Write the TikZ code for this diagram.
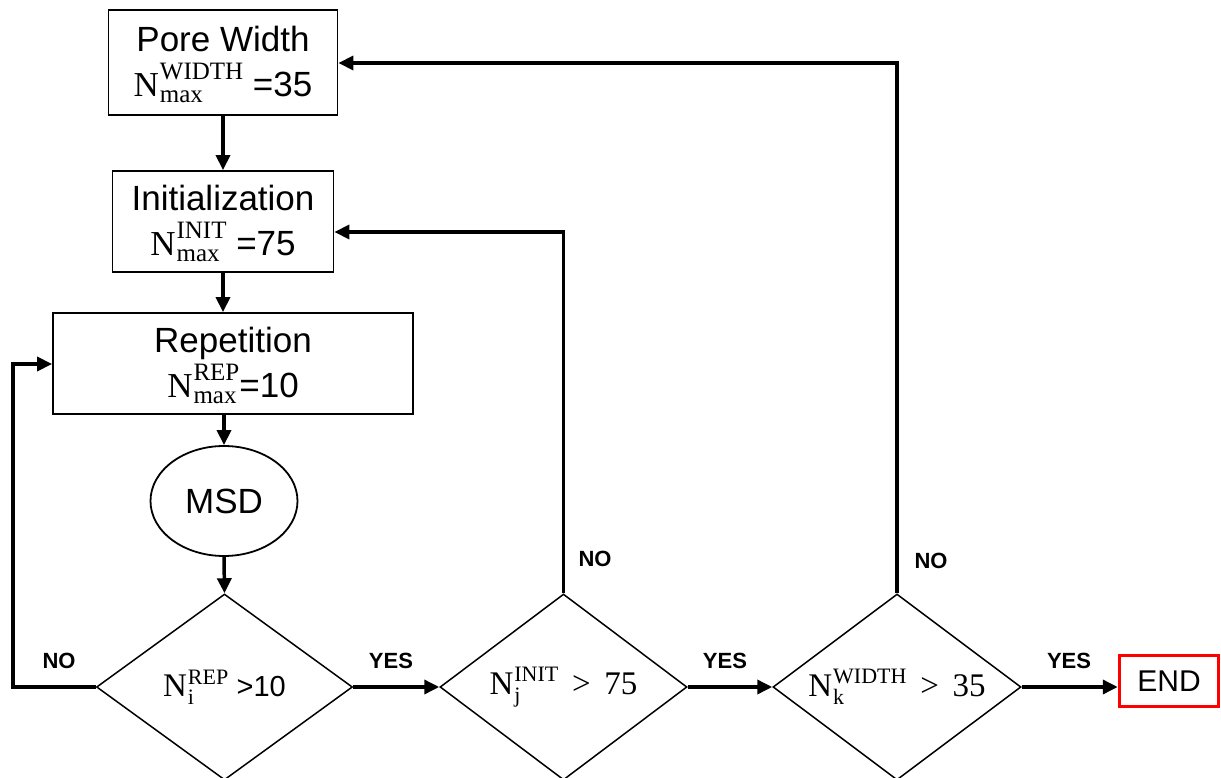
\documentclass[tikz,border=0pt]{standalone}
\usepackage{fontspec}
\setmainfont{Liberation Sans}
\newfontfamily\sr{Liberation Serif}
\usetikzlibrary{shapes.geometric,arrows.meta}
\tikzset{
  box/.style={draw, line width=1.8pt, inner sep=0pt, align=center, font=\fontsize{35}{45}\selectfont},
  dia/.style={draw, diamond, aspect=1.35, line width=1.5pt, inner sep=0pt, minimum width=252pt, minimum height=186pt, font=\fontsize{30}{36}\selectfont},
  arr/.style={line width=3.5pt, -{Triangle[length=15pt,width=14pt]}},
  lab/.style={font=\bfseries\fontsize{22}{26}\selectfont, inner sep=0pt},
}
% #1 N size, #2 sup, #3 sub, #4 script size, #5 raise, #6 lower
\newcommand{\Nv}[6]{%
  {\fontsize{#1}{#1}\selectfont\sr N}\kern1pt%
  {\fontsize{#4}{#4}\selectfont\sr
   \setbox0=\hbox{#2}\setbox2=\hbox{#3}%
   \ifdim\wd0>\wd2 \wd2=\wd0 \else\wd0=\wd2 \fi
   \rlap{\raisebox{#5}{\box0}}\raisebox{-#6}{\box2}}}
\newcommand{\tstrut}{\rule{0pt}{30pt}}
\begin{document}
\begin{tikzpicture}[x=1pt,y=-1pt]
\useasboundingbox (0,0) rectangle (1221,778);
\fill[white] (0,0) rectangle (1221,778);
% boxes
\node[box, minimum width=229pt, minimum height=105pt] (b1) at (223,62.5) {\tstrut Pore Width\\\Nv{35}{WIDTH}{max}{25}{17pt}{6pt} =35};
\node[box, minimum width=221pt, minimum height=101pt] (b2) at (223,221.5) {\tstrut Initialization\\\Nv{35}{INIT}{max}{25}{17pt}{6pt} =75};
\node[box, minimum width=360pt, minimum height=101pt] (b3) at (233,363.5) {\tstrut Repetition\\\Nv{35}{REP}{max}{25}{17pt}{6pt}=10};
\node[draw, ellipse, line width=1.8pt, inner sep=0pt, minimum width=147pt, minimum height=110pt, font=\fontsize{35}{43}\selectfont] (msd) at (224,501) {MSD};
% diamonds
\node[dia, minimum width=256pt] (d1) at (224.5,687) {\Nv{33}{REP}{i}{22}{12pt}{8pt} {\fontsize{29}{32}\selectfont >10}};
\node[dia, minimum width=247pt] (d2) at (563.5,687) {\Nv{33}{INIT}{j}{22}{13pt}{8pt}{\fontsize{33}{36}\selectfont\sr\ \,>\, 75}};
\node[dia, minimum width=248pt] (d3) at (897,687) {\Nv{33}{WIDTH}{k}{22}{13pt}{8pt}{\fontsize{33}{36}\selectfont\sr\ \,>\, 35}};
\node[draw=red, line width=3.5pt, inner sep=0pt, minimum width=99pt, minimum height=51pt, font=\fontsize{30}{36}\selectfont] (end) at (1169,681) {END};
% coordinates for loops
\coordinate (lc) at (13,687);
\coordinate (t3) at (13,364);
\coordinate (t2) at (563,232);
\coordinate (t1) at (897,63);
% straight arrows
\draw[arr] (b1.south) -- (b1.south |- b2.north);
\draw[arr] (b2.south) -- (b2.south |- b3.north);
\draw[arr] (b3.south -| msd) -- (msd.north);
\draw[arr] (msd.south) -- (d1.north);
\draw[arr] (d1.east) -- (d2.west);
\draw[arr] (d2.east) -- (d3.west);
\draw[arr] (d3.east) -- (d3.east -| end.west);
% loops
\draw[arr] (d1.west) -- (lc) -- (t3) -- (t3 -| b3.west);
\draw[arr] (d2.north) |- (t2 -| b2.east);
\draw[arr] (d3.north) |- (t1 -| b1.east);
% labels
\node[lab] (no1) at (59,661) {NO};
\node[lab] (yes1) at (391,661) {YES};
\node[lab] (no2) at (595,559) {NO};
\node[lab] (yes2) at (725,661) {YES};
\node[lab] (no3) at (931,561) {NO};
\node[lab] (yes3) at (1069,661) {YES};
\end{tikzpicture}
\end{document}
